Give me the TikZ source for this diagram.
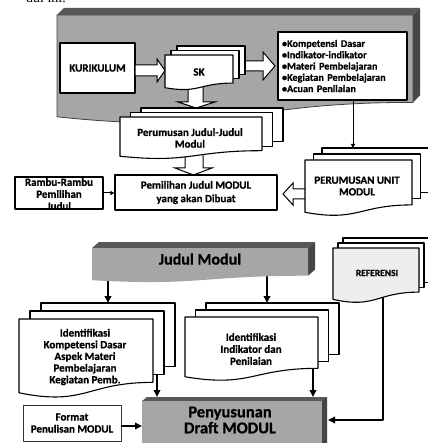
\documentclass[tikz,border=0pt]{standalone}
\usepackage{fontspec}
\setmainfont{Carlito}[BoldFeatures={FakeBold=0.8}]
\newfontfamily\scanfont{Liberation Serif}
\usetikzlibrary{arrows.meta}

\definecolor{panelabu}{RGB}{166,166,166}
\definecolor{sisigelap}{RGB}{88,88,88}
\definecolor{kertas}{RGB}{238,238,238}

\tikzset{
  lembar/.style={draw=black, line width=1.1pt, fill=white},
  kotak/.style={draw=black, line width=1.1pt, fill=white, align=center},
  panahblok/.style={draw=black, line width=1pt, fill=white, line join=miter},
  panahtipis/.style={line width=1pt, -{Triangle[length=4pt,width=4pt]}},
  panahtebal/.style={line width=1.8pt, -{Triangle[length=7pt,width=6.5pt]}},
  teks/.style={font=\bfseries\fontsize{11}{11.7}\selectfont, align=center}
}

% tumpukan dokumen: x1, y1, x2, tinggi, dx, dy, isi lembar depan
\newcommand{\tumpukan}[7]{%
  \foreach \k in {2,1} {
    \draw[lembar]
      ({#1+\k*#5},{#2-\k*#6}) rectangle
      ({#3+\k*#5},{#2+0.802*#4-\k*#6});
  }
  \draw[lembar, fill=#7]
    (#1,#2) -- (#3,#2) -- (#3,{#2+0.802*#4})
    .. controls ({(#1+#3)/2},{#2+0.802*#4})
    and ({(#1+#3)/2},{#2+1.107*#4}) ..
    (#1,{#2+0.934*#4}) -- cycle;
}

\begin{document}
\begin{tikzpicture}[
  x=1pt,
  y=-1pt,
  line cap=round,
  line join=round
]
  \useasboundingbox (0,0) rectangle (427,443);

  % Potongan teks halaman
  \node[anchor=base east, inner sep=0pt,
    font=\scanfont\fontsize{14}{16}\selectfont] (potong)
    at (66,3) {dul ini.};

  % Panel atas
  \fill[sisigelap]
    (57,15) -- (64,8) -- (420,8) -- (413,15) -- cycle;
  \fill[sisigelap!80!black]
    (413,15) -- (420,8) -- (420,95.4) -- (413,102.4) -- cycle;
  \draw[fill=panelabu, draw=black!75, line width=0.8pt]
    (57,15) -- (413,15) -- (413,102.4)
    .. controls (235,102.4) and (235,135.7) ..
    (57,116.8) -- cycle;

  % Kurikulum
  \node[kotak, teks, minimum width=75pt, minimum height=50pt]
    (kur) at (97.5,68) {KURIKULUM};

  % Panah blok
  \draw[panahblok]
    (135,65) -- (157,65) -- (157,59) -- (165,70.5)
    -- (157,82) -- (157,76) -- (135,76) -- cycle;
  \draw[panahblok]
    (236,61) -- (263,61) -- (263,52) -- (275,66)
    -- (263,80) -- (263,71) -- (236,71) -- cycle;
  \draw[panahblok]
    (188,84) -- (203,84) -- (203,102) -- (215,102)
    -- (196,108) -- (178,102) -- (188,102) -- cycle;
  \draw[panahblok]
    (185,150) -- (203,150) -- (203,168) -- (212,168)
    -- (193.5,175) -- (175,168) -- (185,168) -- cycle;
  \draw[panahblok]
    (310,189) -- (293,189) -- (293,183) -- (283,194)
    -- (293,205) -- (293,199) -- (310,199) -- cycle;

  % SK
  \tumpukan{165}{55}{233}{35}{6}{4.5}{white}
  \node[teks] (sk) at (199,72) {SK};

  % Isi
  \node[kotak, align=left, text width=121pt, inner xsep=4pt,
    minimum height=68pt,
    font=\bfseries\fontsize{10.2}{11.3}\selectfont]
    (isi) at (342.5,66)
    {•Kompetensi Dasar\\
     •Indikator-indikator\\
     •Materi Pembelajaran\\
     •Kegiatan Pembelajaran\\
     •Acuan Penilaian};

  \coordinate (unitatas) at (353,148);
  \draw[panahtipis] (isi.south -| unitatas) -- (unitatas);

  % Perumusan judul
  \tumpukan{120}{117}{262}{42}{10.5}{4.5}{white}
  \node[teks] (perjud) at (190,138)
    {Perumusan Judul-Judul\\Modul};

  % Perumusan unit
  \tumpukan{305}{160}{412}{56}{8.5}{6}{white}
  \node[teks] (unit) at (357,186)
    {PERUMUSAN UNIT\\MODUL};

  % Pemilihan
  \node[kotak, teks, font=\bfseries\fontsize{11}{13.5}\selectfont,
    minimum width=162pt, minimum height=35pt]
    (pilih) at (196,192.5)
    {Pemilihan Judul MODUL\\yang akan Dibuat};

  \node[kotak, minimum width=88pt, minimum height=32pt]
    (rambu) at (59,193) {};
  \node[teks, font=\bfseries\fontsize{11}{12}\selectfont]
    (rambuteks) at (59,194) {Rambu-Rambu\\Pemilihan\\Judul};
  \draw[panahtipis] (rambu.east) -- (pilih.west |- rambu.east);

  % Penyusunan draft
  \fill[sisigelap]
    (142,401) -- (147,397) -- (327,397) -- (322,401) -- cycle;
  \fill[sisigelap!80!black]
    (322,401) -- (327,397) -- (327,450) -- (322,450) -- cycle;
  \fill[panelabu] (142,401) rectangle (322,450);
  \node[font=\bfseries\fontsize{16.5}{16}\selectfont, align=center]
    (draft) at (230,420) {Penyusunan\\Draft MODUL};

  % Koneksi bawah
  \coordinate (judulkiri) at (108,270);
  \coordinate (judulkanan) at (267,270);
  \coordinate (idkdatas) at (108,303);
  \coordinate (idindatas) at (267,303);
  \coordinate (idkdbawah) at (157,360);
  \coordinate (idindbawah) at (313,355);
  \coordinate (refbawah) at (383,285);
  \coordinate (draftatas1) at (157,397);
  \coordinate (draftatas2) at (313,397);
  \coordinate (draftkanan) at (328,420);
  \coordinate (draftkiri) at (142,426);

  \draw[panahtebal] (judulkiri) -- (idkdatas);
  \draw[panahtebal] (judulkanan) -- (idindatas);
  \draw[panahtebal] (idkdbawah) -- (draftatas1);
  \draw[panahtebal] (idindbawah) -- (draftatas2);
  \draw[panahtebal] (refbawah) |- (draftkanan);

  % Judul modul
  \fill[sisigelap]
    (92,248) -- (99,242) -- (315,242) -- (308,248) -- cycle;
  \fill[sisigelap!80!black]
    (308,248) -- (315,242) -- (315,269.7) -- (308,275.7) -- cycle;
  \fill[panelabu]
    (92,248) -- (308,248) -- (308,275.7)
    .. controls (200,275.7) and (200,286.2) ..
    (92,280.2) -- cycle;
  \node[font=\bfseries\fontsize{16}{18}\selectfont]
    (judul) at (200,259) {Judul Modul};

  % Identifikasi
  \tumpukan{19}{319}{153}{79}{11}{8}{white}
  \node[teks] (idkd) at (85,357)
    {Identifikasi\\Kompetensi Dasar\\Aspek Materi\\Pembelajaran\\Kegiatan Pemb.};

  \tumpukan{185}{317}{318}{64}{10.5}{7}{white}
  \node[teks, font=\bfseries\fontsize{11}{12}\selectfont]
    (idind) at (251,349)
    {Identifikasi\\Indikator dan\\Penilaian};

  % Referensi
  \tumpukan{333}{248}{419}{55}{5}{5}{kertas}
  \node[teks, font=\bfseries\fontsize{9.5}{10}\selectfont]
    (ref) at (377,273) {REFERENSI};

  % Format
  \node[kotak, teks, draw=black!80, line width=0.9pt,
    font=\bfseries\fontsize{11}{12}\selectfont,
    minimum width=98pt, minimum height=36pt]
    (format) at (72,423) {Format\\Penulisan MODUL};
  \draw[panahtebal] (format.east |- draftkiri) -- (draftkiri);
\end{tikzpicture}
\end{document}
